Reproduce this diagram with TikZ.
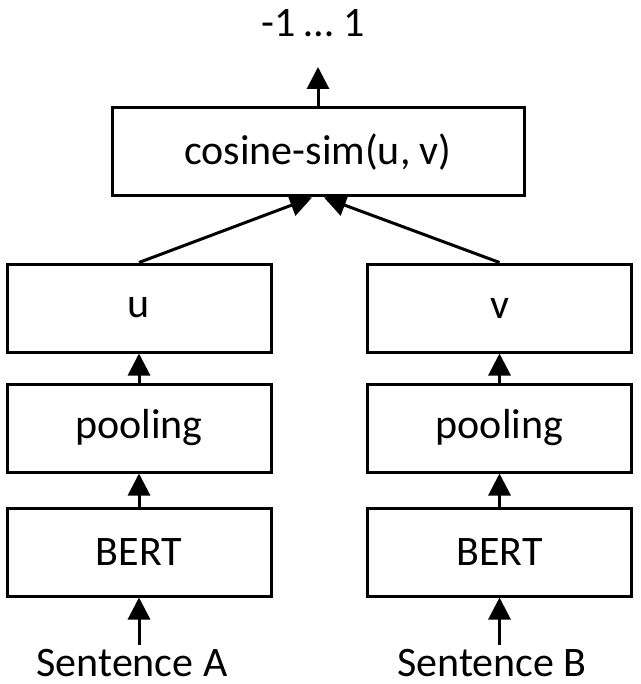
\documentclass[tikz,border=0pt]{standalone}
\usepackage{fontspec}
\setmainfont{Carlito}
\usetikzlibrary{arrows.meta}
\begin{document}
\begin{tikzpicture}[x=1pt,y=-1pt,
  box/.style={draw,line width=3pt,minimum width=264pt,minimum height=88pt,inner sep=0pt,font=\fontsize{42}{50}\selectfont},
  lbl/.style={inner sep=0pt,anchor=base,font=\fontsize{42}{50}\selectfont},
  arr/.style={line width=3pt,-{Triangle[length=22pt,width=22pt]}}]
\useasboundingbox (0,0) rectangle (640,684);
\node[box,minimum width=412pt] (cos) at (318,152) {cosine-sim(u, v)};
\node[box] (u) at (139,308) {u};
\node[box] (pA) at (139,428) {pooling};
\node[box] (bA) at (139,552) {BERT};
\node[box] (v) at (499.5,308) {v};
\node[box] (pB) at (499.5,428) {pooling};
\node[box] (bB) at (499.5,552) {BERT};
\node[lbl] (res) at (313,37) {-1 … 1};
\node[lbl] (sA) at (132,676) {Sentence A};
\node[lbl] (sB) at (492,676) {Sentence B};
\coordinate (outtip) at (318,67);
\coordinate (inA) at (139,645);
\coordinate (inB) at (499.5,645);
\draw[arr] (cos.north) -- (outtip);
\draw[arr] (u.north) -- ([xshift=-6pt]cos.south);
\draw[arr] (v.north) -- ([xshift=6pt]cos.south);
\draw[arr] (pA.north) -- (u.south);
\draw[arr] (pB.north) -- (v.south);
\draw[arr] (bA.north) -- (pA.south);
\draw[arr] (bB.north) -- (pB.south);
\draw[arr] (inA) -- (bA.south);
\draw[arr] (inB) -- (bB.south);
\end{tikzpicture}
\end{document}
